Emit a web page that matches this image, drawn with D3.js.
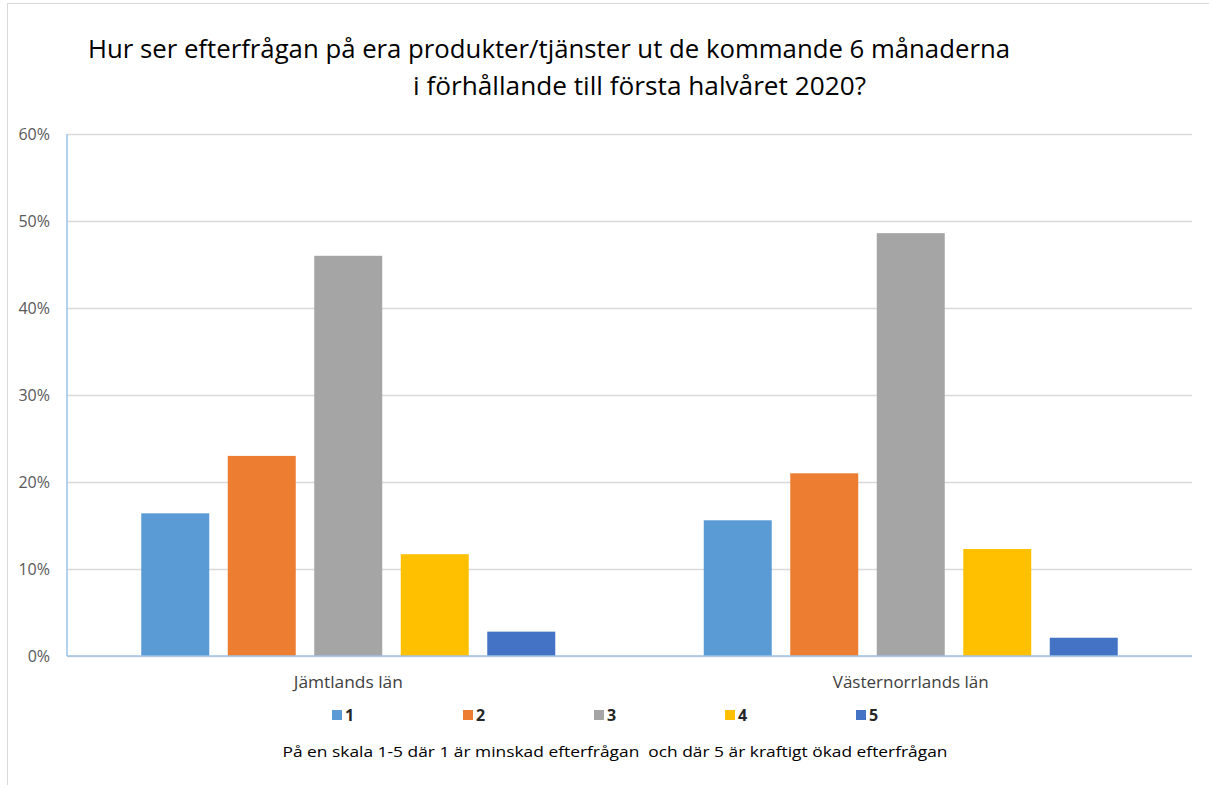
<!DOCTYPE html>
<html lang="sv">
    <head>
        <meta charset="utf-8">
        <title>Efterfrågan</title>
        <script src="https://d3js.org/d3.v7.min.js"></script>
        <style>
            body { margin: 0; background: #fff; }
            text { font-family: "Open Sans", "Noto Sans", sans-serif; }
        </style>
    </head>

    <body>
        <div id="d3render"></div>
    </body>

    <script>
        const categories = ['Jämtlands län', 'Västernorrlands län'];
        const seriesNames = ['1', '2', '3', '4', '5'];
        const seriesValues = [
            [0.164, 0.156],
            [0.230, 0.210],
            [0.460, 0.486],
            [0.117, 0.123],
            [0.028, 0.021]
        ];
        const colors = ['#5b9bd5', '#ed7d31', '#a5a5a5', '#ffc000', '#4472c4'];
        const yTicks = [0, 0.1, 0.2, 0.3, 0.4, 0.5, 0.6];
        const titleLines = [
            'Hur ser efterfrågan på era produkter/tjänster ut de kommande 6 månaderna',
            'i förhållande till första halvåret 2020?'
        ];
        const footnote = 'På en skala 1-5 där 1 är minskad efterfrågan  och där 5 är kraftigt ökad efterfrågan';

        const svgWidth = 1209;
        const svgHeight = 785;
        const plotLeft = 67, plotRight = 1192, plotTop = 134, plotBottom = 656;

        const svg = d3.select('#d3render')
            .append('svg')
            .attr('width', svgWidth)
            .attr('height', svgHeight)
            .style('display', 'block')

        svg.append('rect')
            .attr('x', 7.5)
            .attr('y', 3.5)
            .attr('width', 1260)
            .attr('height', 900)
            .attr('fill', '#fff')
            .attr('stroke', '#d9d9d9')

        // title, two lines
        svg.append('text')
            .attr('x', 88)
            .attr('y', 58)
            .attr('textLength', 922)
            .attr('lengthAdjust', 'spacingAndGlyphs')
            .attr('font-size', 25)
            .attr('fill', '#000')
            .text(titleLines[0])

        svg.append('text')
            .attr('x', 413)
            .attr('y', 95)
            .attr('textLength', 453)
            .attr('lengthAdjust', 'spacingAndGlyphs')
            .attr('font-size', 25)
            .attr('fill', '#000')
            .text(titleLines[1])

        const yScale = d3.scaleLinear()
            .domain([0, 0.6])
            .range([plotBottom, plotTop])

        const x0 = d3.scaleBand()
            .domain(categories)
            .range([plotLeft, plotRight])
            .paddingInner(0.264)
            .paddingOuter(0.132)

        const x1 = d3.scaleBand()
            .domain(seriesNames)
            .range([0, x0.bandwidth()])
            .paddingInner(0.214)
            .paddingOuter(0)

        const yAxis = d3.axisLeft(yScale)
            .tickValues(yTicks)
            .tickFormat(d3.format('.0%'))
            .tickSize(-(plotRight - plotLeft))
            .tickPadding(17)

        const gy = svg.append('g')
            .attr('transform', `translate(${plotLeft}, 0)`)
            .call(yAxis)

        gy.select('.domain').remove()
        gy.selectAll('.tick line')
            .attr('stroke', '#d9d9d9')
            .attr('stroke-width', 1.5)
        gy.selectAll('.tick text')
            .attr('font-size', 16)
            .attr('fill', '#595959')

        const groups = svg.selectAll('.group')
            .data(categories)
            .enter()
            .append('g')
            .attr('class', 'group')
            .attr('transform', d => `translate(${x0(d)}, 0)`)

        groups.selectAll('rect')
            .data((c, ci) => seriesNames.map((s, si) => ({ s, si, v: seriesValues[si][ci] })))
            .enter()
            .append('rect')
            .attr('x', d => x1(d.s))
            .attr('y', d => yScale(d.v))
            .attr('width', x1.bandwidth())
            .attr('height', d => yScale(0) - yScale(d.v))
            .attr('fill', d => colors[d.si])

        // axis lines
        svg.append('line')
            .attr('x1', plotLeft).attr('x2', plotRight)
            .attr('y1', plotBottom).attr('y2', plotBottom)
            .attr('stroke', '#9dc3e6')
            .attr('stroke-width', 1.5)

        svg.append('line')
            .attr('x1', plotLeft).attr('x2', plotLeft)
            .attr('y1', plotTop).attr('y2', plotBottom)
            .attr('stroke', '#9dc3e6')
            .attr('stroke-width', 1.5)

        const labelWidths = [109, 156];
        const xAxis = d3.axisBottom(x0).tickSize(0).tickPadding(21)
        const gx = svg.append('g')
            .attr('transform', `translate(0, ${plotBottom})`)
            .call(xAxis)
        gx.select('.domain').remove()
        gx.selectAll('.tick text')
            .attr('font-size', 16)
            .attr('fill', '#404040')
            .attr('textLength', (d, i) => labelWidths[i])
            .attr('lengthAdjust', 'spacingAndGlyphs')

        // legend
        const legend = svg.selectAll('.legend')
            .data(seriesNames)
            .enter()
            .append('g')
            .attr('class', 'legend')
            .attr('transform', (d, i) => `translate(${332 + i * 131}, 710)`)

        legend.append('rect')
            .attr('width', 10)
            .attr('height', 10)
            .attr('fill', (d, i) => colors[i])

        legend.append('text')
            .attr('x', 13)
            .attr('y', 11)
            .attr('font-size', 16)
            .attr('font-weight', 'bold')
            .attr('fill', '#262626')
            .text(d => d)

        svg.append('text')
            .attr('x', 615)
            .attr('y', 757)
            .attr('text-anchor', 'middle')
            .attr('font-size', 15)
            .attr('fill', '#000')
            .style('white-space', 'pre')
            .attr('textLength', 665)
            .attr('lengthAdjust', 'spacingAndGlyphs')
            .text(footnote)
    </script>
</html>
